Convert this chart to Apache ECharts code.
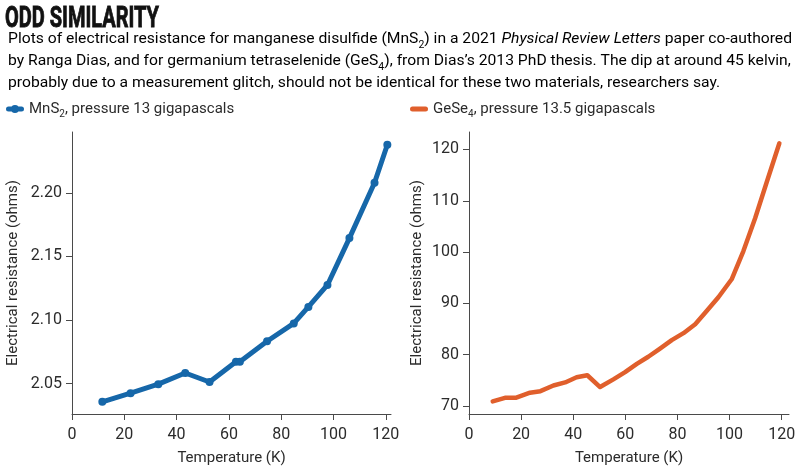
<!DOCTYPE html>
<html>
<head>
<meta charset="utf-8">
<script src="https://cdn.jsdelivr.net/npm/echarts@6/dist/echarts.min.js"></script>
<style>
html,body{margin:0;padding:0;background:#fff;}
#chart{width:800px;height:471px;}
</style>
</head>
<body>
<div id="chart"></div>
<script>
// ---- data ----
const mnsTemp = [11.6, 22.4, 33.0, 43.3, 52.6, 62.7, 64.2, 74.6, 84.8, 90.4, 97.7, 106.1, 115.7, 120.6];
const mnsRes  = [2.0356, 2.0424, 2.0495, 2.0583, 2.0512, 2.0672, 2.0672, 2.0833, 2.0973, 2.1103, 2.1276, 2.1645, 2.208, 2.238];

const geseTemp = [9.1, 13.8, 17.9, 23.4, 27.4, 32.4, 36.9, 41.3, 45.4, 50.3, 55.4, 59.9, 64.4, 68.8, 73.3, 77.8, 82.3, 86.8, 91.2, 95.7, 100.8, 105.3, 109.8, 114.3, 119.1];
const geseRes  = [70.9, 71.6, 71.6, 72.6, 72.9, 74.0, 74.6, 75.6, 76.0, 73.7, 75.2, 76.6, 78.2, 79.6, 81.2, 82.85, 84.2, 85.95, 88.5, 91.2, 94.7, 100.2, 106.6, 113.7, 121.2];

const xTicks = [0, 20, 40, 60, 80, 100, 120];
const yTicksMnS = [2.05, 2.10, 2.15, 2.20];
const yTicksGeSe = [70, 80, 90, 100, 110, 120];

const mnsName = 'MnS2, pressure 13 gigapascals';
const geseName = 'GeSe4, pressure 13.5 gigapascals';

const blue = '#1667a9';
const orange = '#e05f2c';
const FONT = 'Roboto, "Noto Sans", sans-serif';

// ---- text measuring for fitting header widths ----
const mctx = document.createElement('canvas').getContext('2d');
function w(text, size, weight, style) {
  mctx.font = (style || 'normal') + ' ' + (weight || 'normal') + ' ' + size + 'px Roboto';
  return mctx.measureText(text).width;
}
const titleText = 'ODD SIMILARITY';
const titleScale = 154 / w(titleText, 30, 'bold');
const line1W = w('Plots of electrical resistance for manganese disulfide (MnS', 15) + w('2', 10) +
  w(') in a 2021 ', 15) + w('Physical Review Letters', 15, 'normal', 'italic') + w(' paper co-authored', 15);
const bodyScale = 784 / line1W;

const richBody = {
  n: {fontSize: 15, fontFamily: FONT, color: '#2b2b2b', lineHeight: 22, verticalAlign: 'bottom', padding: [0,0,3,0]},
  i: {fontSize: 15, fontFamily: FONT, color: '#2b2b2b', lineHeight: 22, fontStyle: 'italic', verticalAlign: 'bottom', padding: [0,0,3,0]},
  s: {fontSize: 10, fontFamily: FONT, color: '#2b2b2b', lineHeight: 12, verticalAlign: 'bottom', padding: [0,0,0,0]}
};
const bodyText =
  '{n|Plots of electrical resistance for manganese disulfide (MnS}{s|2}{n|) in a 2021 }{i|Physical Review Letters}{n| paper co-authored}\n' +
  '{n|by Ranga Dias, and for germanium tetraselenide (GeS}{s|4}{n|), from Dias\u2019s 2013 PhD thesis. The dip at around 45 kelvin,}\n' +
  '{n|probably due to a measurement glitch, should not be identical for these two materials, researchers say.}';

function legendFmt(name) {
  const m = name.match(/^([A-Za-z]+)(\d)(.*)$/);
  return '{n|' + m[1] + '}{s|' + m[2] + '}{n|' + m[3] + '}';
}
const legendRich = {
  n: {fontSize: 15, fontFamily: FONT, color: '#2b2b2b', lineHeight: 20, verticalAlign: 'bottom', padding: [0,0,2,0]},
  s: {fontSize: 10, fontFamily: FONT, color: '#2b2b2b', lineHeight: 12, verticalAlign: 'bottom'}
};
const iconLineDot = 'path://M2.5,1.5 H15.5 A2.5,2.5 0 0 1 15.5,6.5 H2.5 A2.5,2.5 0 0 1 2.5,1.5 Z M5,4 A4,4 0 1 1 13,4 A4,4 0 1 1 5,4 Z';
const iconLine = 'path://M2.5,0 H15.5 A2.5,2.5 0 0 1 15.5,5 H2.5 A2.5,2.5 0 0 1 2.5,0 Z';

const axisCommon = {
  axisLine: {show: true, lineStyle: {color: '#4a4a4a', width: 1}},
  axisTick: {show: true, length: 6, lineStyle: {color: '#4a4a4a'}},
  splitLine: {show: false},
  nameTextStyle: {fontSize: 15, fontFamily: FONT, color: '#2b2b2b'},
  axisLabel: {fontSize: 16, fontFamily: FONT, color: '#2b2b2b'}
};

function xAxis(gi, max) {
  return Object.assign({}, axisCommon, {
    type: 'value', gridIndex: gi, min: 0, max: max,
    name: 'Temperature (K)', nameLocation: 'middle', nameGap: 37,
    axisTick: Object.assign({}, axisCommon.axisTick, {customValues: xTicks}),
    axisLabel: Object.assign({}, axisCommon.axisLabel, {customValues: xTicks, margin: 13})
  });
}
function yAxis(gi, min, max, ticks, gap) {
  return Object.assign({}, axisCommon, {
    type: 'value', gridIndex: gi, min: min, max: max, scale: true,
    name: 'Electrical resistance (ohms)', nameLocation: 'middle', nameGap: gap,
    axisTick: Object.assign({}, axisCommon.axisTick, {customValues: ticks}),
    axisLabel: Object.assign({}, axisCommon.axisLabel, {customValues: ticks, margin: 10,
      formatter: v => (ticks === yTicksMnS ? v.toFixed(2) : String(v))})
  });
}

const chart = echarts.init(document.getElementById('chart'), null, {renderer: 'canvas'});
chart.setOption({
  animation: false,
  backgroundColor: '#ffffff',
  graphic: [
    {type: 'text', x: 5, y: 4, scaleX: titleScale, style: {
      text: titleText, font: 'bold 30px Roboto', fill: '#111', stroke: '#111', lineWidth: 0.9,
      textVerticalAlign: 'top'}},
    {type: 'text', x: 8, y: 28, scaleX: bodyScale, style: {
      text: bodyText, rich: richBody, textVerticalAlign: 'top'}}
  ],
  legend: [
    {data: [{name: mnsName, icon: iconLineDot}], left: 6, top: 102, padding: 0, itemWidth: 18, itemHeight: 8, itemGap: 5,
     formatter: legendFmt, textStyle: {rich: legendRich}},
    {data: [{name: geseName, icon: iconLine}], left: 410, top: 102, padding: 0, itemWidth: 18, itemHeight: 5, itemGap: 5,
     formatter: legendFmt, textStyle: {rich: legendRich}}
  ],
  grid: [
    {left: 72, top: 132, width: 319, bottom: 56, containLabel: false},
    {left: 469, top: 132, width: 320, bottom: 56, containLabel: false}
  ],
  xAxis: [xAxis(0, 122), xAxis(1, 122.8)],
  yAxis: [yAxis(0, 2.026, 2.248, yTicksMnS, 51), yAxis(1, 68.45, 123.4, yTicksGeSe, 44)],
  series: [
    {name: mnsName, type: 'line', xAxisIndex: 0, yAxisIndex: 0,
     data: mnsTemp.map((t, i) => [t, mnsRes[i]]),
     symbol: 'circle', symbolSize: 8, showSymbol: true,
     lineStyle: {color: blue, width: 5, join: 'round', cap: 'round'},
     itemStyle: {color: blue}},
    {name: geseName, type: 'line', xAxisIndex: 1, yAxisIndex: 1,
     data: geseTemp.map((t, i) => [t, geseRes[i]]),
     symbol: 'none',
     lineStyle: {color: orange, width: 4.5, join: 'round', cap: 'round'},
     itemStyle: {color: orange}}
  ]
});
</script>
</body>
</html>
